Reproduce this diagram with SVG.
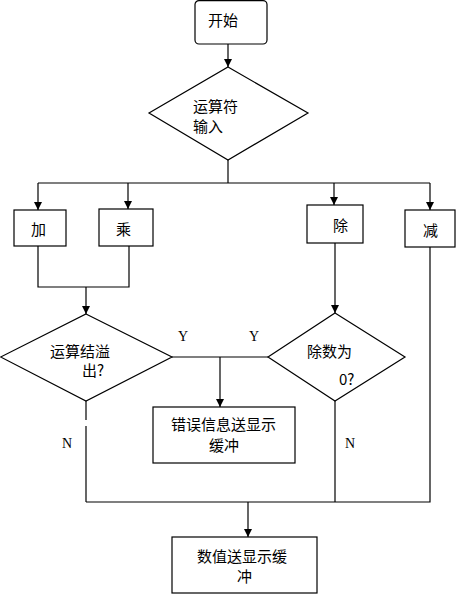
<svg xmlns="http://www.w3.org/2000/svg" width="456" height="594" viewBox="0 0 456 594">
<style>
.shape{fill:#fff;stroke:#000;stroke-width:1.2}
.line{fill:none;stroke:#000;stroke-width:1.2}
.cn{font-family:"Noto Sans CJK SC","Noto Sans",sans-serif;font-size:15px;fill:#000}
.lat{font-family:"Liberation Serif",serif;font-size:14px;fill:#000}
</style>
<defs>
<marker id="arr" markerUnits="userSpaceOnUse" markerWidth="8" markerHeight="8" refX="8" refY="4" orient="auto">
<path d="M0,0 L8,4 L0,8 z" fill="#000"/>
</marker>
<clipPath id="clip0"><rect x="300" y="360" width="80" height="16.5"/></clipPath>
</defs>
<rect width="456" height="594" fill="#fff"/>
<g id="connectors">
<line class="line" x1="228" y1="44" x2="228" y2="67" marker-end="url(#arr)"/>
<polyline class="line" points="228,160 228,183"/>
<line class="line" x1="38" y1="183" x2="430" y2="183"/>
<line class="line" x1="38" y1="183" x2="38" y2="210" marker-end="url(#arr)"/>
<line class="line" x1="128" y1="183" x2="128" y2="209" marker-end="url(#arr)"/>
<line class="line" x1="334" y1="183" x2="334" y2="205" marker-end="url(#arr)"/>
<line class="line" x1="430" y1="183" x2="430" y2="210" marker-end="url(#arr)"/>
<polyline class="line" points="38,246 38,287 129,287 129,246"/>
<line class="line" x1="86" y1="287" x2="86" y2="314" marker-end="url(#arr)"/>
<line class="line" x1="335" y1="243" x2="335" y2="313" marker-end="url(#arr)"/>
<line class="line" x1="172" y1="357" x2="268" y2="357"/>
<line class="line" x1="220" y1="357" x2="220" y2="407" marker-end="url(#arr)"/>
<line class="line" x1="86" y1="401" x2="86" y2="420"/>
<line class="line" x1="86" y1="426" x2="86" y2="502"/>
<line class="line" x1="335" y1="401" x2="335" y2="502"/>
<polyline class="line" points="430,247 430,502 86,502"/>
<line class="line" x1="248" y1="502" x2="248" y2="537" marker-end="url(#arr)"/>
<text class="lat" x="178" y="341">Y</text>
<text class="lat" x="249" y="341">Y</text>
<text class="lat" x="62" y="448">N</text>
<text class="lat" x="345" y="448">N</text>
</g>
<g id="start">
<rect class="shape" x="195" y="0.6" width="72" height="43.4" rx="4"/>
<text class="cn" x="208" y="26">开始</text>
</g>
<g id="input">
<polygon class="shape" points="228,67 308,113 228,160 149,113"/>
<text class="cn" x="193" y="112">运算符</text>
<text class="cn" x="193" y="132">输入</text>
</g>
<g id="add">
<rect class="shape" x="14" y="210" width="52" height="36"/>
<text class="cn" x="31" y="235">加</text>
</g>
<g id="mul">
<rect class="shape" x="99" y="209" width="54" height="37"/>
<text class="cn" x="116" y="235">乘</text>
</g>
<g id="div">
<rect class="shape" x="307" y="205" width="56" height="38"/>
<text class="cn" x="333" y="231">除</text>
</g>
<g id="sub">
<rect class="shape" x="405" y="210" width="50" height="37"/>
<text class="cn" x="423" y="236">减</text>
</g>
<g id="overflow">
<polygon class="shape" points="86,314 172,357 86,401 0.6,357"/>
<text class="cn" x="50" y="357">运算结溢</text>
<text class="cn" x="82" y="376">出?</text>
</g>
<g id="divzero">
<polygon class="shape" points="335,313 405,357 335,401 268,357"/>
<text class="cn" x="339" y="385">0?</text>
</g>
<g id="divzero-label">
<text class="cn" x="307" y="357">除数为</text>
</g>
<g id="error">
<rect class="shape" x="153" y="407" width="142" height="56"/>
<text class="cn" x="171" y="430">错误信息送显示</text>
<text class="cn" x="209" y="451">缓冲</text>
</g>
<g id="output">
<rect class="shape" x="172" y="537" width="145" height="56"/>
<text class="cn" x="197" y="562">数值送显示缓</text>
<text class="cn" x="237" y="582">冲</text>
</g>
</svg>
